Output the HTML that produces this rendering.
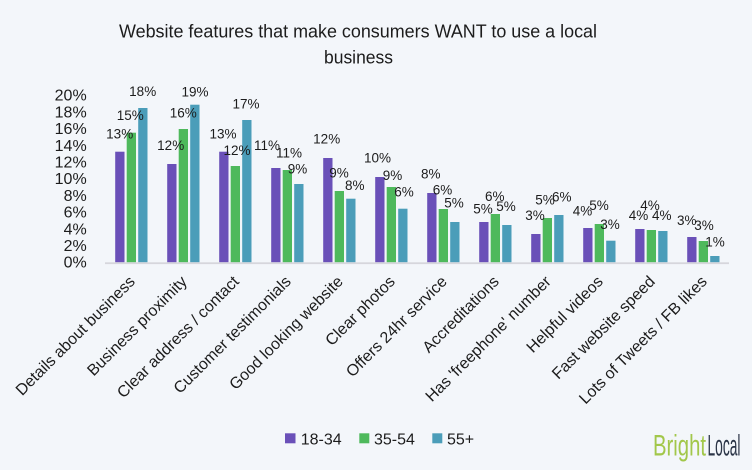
<!DOCTYPE html>
<html>
<head>
<meta charset="utf-8">
<style>
html,body{margin:0;padding:0;background:#f3f6fa;}
svg{display:block;}
text{font-family:"Liberation Sans",sans-serif;fill:#1c1c1c;}
</style>
</head>
<body>
<svg width="752" height="470" viewBox="0 0 752 470" xmlns="http://www.w3.org/2000/svg">
<rect x="0" y="0" width="752" height="470" fill="#f3f6fa"/>
<!-- Title -->
<text x="358" y="37.3" font-size="18" text-anchor="middle" textLength="478" lengthAdjust="spacingAndGlyphs">Website features that make consumers WANT to use a local</text>
<text x="358.5" y="63.3" font-size="18" text-anchor="middle" textLength="69" lengthAdjust="spacingAndGlyphs">business</text>

<!-- Y axis labels -->
<g font-size="16" text-anchor="end">
<text x="86.7" y="267.7">0%</text>
<text x="86.7" y="251.0">2%</text>
<text x="86.7" y="234.3">4%</text>
<text x="86.7" y="217.6">6%</text>
<text x="86.7" y="200.9">8%</text>
<text x="86.7" y="184.2">10%</text>
<text x="86.7" y="167.5">12%</text>
<text x="86.7" y="150.8">14%</text>
<text x="86.7" y="134.1">16%</text>
<text x="86.7" y="117.4">18%</text>
<text x="86.7" y="100.7">20%</text>
</g>

<!-- Bars -->
<g>
<!-- purple -->
<g fill="#6a50b8">
<rect x="115.2" y="151.7" width="9.3" height="110.6"/>
<rect x="167.2" y="164" width="9.3" height="98.3"/>
<rect x="219.2" y="151.7" width="9.3" height="110.6"/>
<rect x="271.2" y="168" width="9.3" height="94.3"/>
<rect x="323.2" y="158" width="9.3" height="104.3"/>
<rect x="375.2" y="177" width="9.3" height="85.3"/>
<rect x="427.2" y="193" width="9.3" height="69.3"/>
<rect x="479.2" y="222" width="9.3" height="40.3"/>
<rect x="531.2" y="234" width="9.3" height="28.3"/>
<rect x="583.2" y="228" width="9.3" height="34.3"/>
<rect x="635.2" y="229" width="9.3" height="33.3"/>
<rect x="687.2" y="237" width="9.3" height="25.3"/>
</g>
<!-- green -->
<g fill="#4eb95c">
<rect x="126.7" y="132.7" width="9.3" height="129.6"/>
<rect x="178.7" y="129" width="9.3" height="133.3"/>
<rect x="230.7" y="166" width="9.3" height="96.3"/>
<rect x="282.7" y="170" width="9.3" height="92.3"/>
<rect x="334.7" y="191" width="9.3" height="71.3"/>
<rect x="386.7" y="187" width="9.3" height="75.3"/>
<rect x="438.7" y="209" width="9.3" height="53.3"/>
<rect x="490.7" y="214" width="9.3" height="48.3"/>
<rect x="542.7" y="218" width="9.3" height="44.3"/>
<rect x="594.7" y="224" width="9.3" height="38.3"/>
<rect x="646.7" y="230" width="9.3" height="32.3"/>
<rect x="698.7" y="241" width="9.3" height="21.3"/>
</g>
<!-- blue -->
<g fill="#4b9db9">
<rect x="138.2" y="108" width="9.3" height="154.3"/>
<rect x="190.2" y="104.7" width="9.3" height="157.6"/>
<rect x="242.2" y="120" width="9.3" height="142.3"/>
<rect x="294.2" y="184" width="9.3" height="78.3"/>
<rect x="346.2" y="198.7" width="9.3" height="63.6"/>
<rect x="398.2" y="208.7" width="9.3" height="53.6"/>
<rect x="450.2" y="222" width="9.3" height="40.3"/>
<rect x="502.2" y="225" width="9.3" height="37.3"/>
<rect x="554.2" y="215" width="9.3" height="47.3"/>
<rect x="606.2" y="240.7" width="9.3" height="21.6"/>
<rect x="658.2" y="231" width="9.3" height="31.3"/>
<rect x="710.2" y="256" width="9.3" height="6.3"/>
</g>
</g>

<!-- axis line -->
<rect x="105" y="262.3" width="624" height="1.8" fill="#d6d6dc"/>

<!-- Data labels -->
<g font-size="13.5" text-anchor="middle">
<text x="119.7" y="138.3">13%</text>
<text x="130.3" y="120">15%</text>
<text x="142.7" y="96">18%</text>
<text x="170.7" y="150">12%</text>
<text x="183.3" y="117.3">16%</text>
<text x="195" y="96.7">19%</text>
<text x="223" y="138.3">13%</text>
<text x="237" y="155">12%</text>
<text x="246" y="108.3">17%</text>
<text x="267" y="150">11%</text>
<text x="289" y="157.7">11%</text>
<text x="297.5" y="173.3">9%</text>
<text x="326.7" y="143.3">12%</text>
<text x="339" y="177.3">9%</text>
<text x="354.8" y="190">8%</text>
<text x="377.5" y="162.7">10%</text>
<text x="392.5" y="180">9%</text>
<text x="404" y="196.7">6%</text>
<text x="430.8" y="178.3">8%</text>
<text x="442.5" y="194.3">6%</text>
<text x="454" y="207.3">5%</text>
<text x="483" y="213.3">5%</text>
<text x="494.8" y="201">6%</text>
<text x="506" y="211">5%</text>
<text x="535" y="220">3%</text>
<text x="545" y="204.3">5%</text>
<text x="561.7" y="201.7">6%</text>
<text x="582.5" y="215.7">4%</text>
<text x="599" y="210">5%</text>
<text x="610" y="229">3%</text>
<text x="638.5" y="220">4%</text>
<text x="650" y="210">4%</text>
<text x="661.8" y="220">4%</text>
<text x="686.8" y="225">3%</text>
<text x="704" y="230">3%</text>
<text x="715" y="246.7">1%</text>
</g>

<!-- X labels -->
<g font-size="16" text-anchor="end">
<text transform="translate(135.9,282.5) rotate(-45)">Details about business</text>
<text transform="translate(187.9,282.5) rotate(-45)">Business proximity</text>
<text transform="translate(239.9,282.5) rotate(-45)">Clear address / contact</text>
<text transform="translate(291.9,282.5) rotate(-45)">Customer testimonials</text>
<text transform="translate(343.9,282.5) rotate(-45)">Good looking website</text>
<text transform="translate(395.9,282.5) rotate(-45)">Clear photos</text>
<text transform="translate(447.9,282.5) rotate(-45)">Offers 24hr service</text>
<text transform="translate(499.9,282.5) rotate(-45)">Accreditations</text>
<text transform="translate(551.9,282.5) rotate(-45)">Has 'freephone' number</text>
<text transform="translate(603.9,282.5) rotate(-45)">Helpful videos</text>
<text transform="translate(655.9,282.5) rotate(-45)">Fast website speed</text>
<text transform="translate(707.9,282.5) rotate(-45)">Lots of Tweets / FB likes</text>
</g>

<!-- Legend -->
<rect x="285" y="433.3" width="10.5" height="10" fill="#6a50b8"/>
<text x="300.7" y="444.5" font-size="16">18-34</text>
<rect x="359.3" y="433.3" width="10" height="10" fill="#4eb95c"/>
<text x="374" y="444.5" font-size="16">35-54</text>
<rect x="432.3" y="433.3" width="10" height="10" fill="#4b9db9"/>
<text x="447" y="444.5" font-size="16">55+</text>

<!-- Logo -->
<text x="653" y="455.7" font-size="30" textLength="53" lengthAdjust="spacingAndGlyphs" style="fill:#a2c74a">Bright</text>
<text x="707.5" y="455.7" font-size="30" textLength="33" lengthAdjust="spacingAndGlyphs" style="fill:#2b3547">Local</text>
</svg>
</body>
</html>
